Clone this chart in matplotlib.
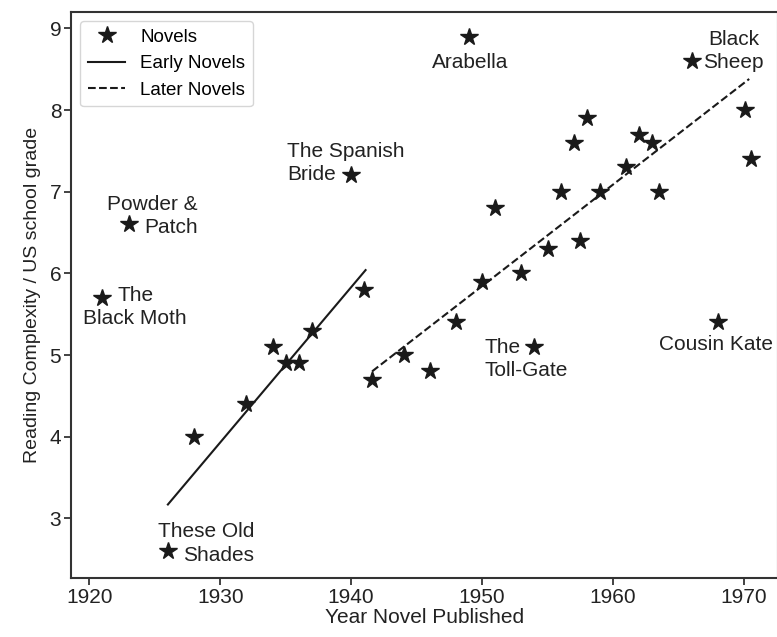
import matplotlib.pyplot as plt

plt.rcParams['font.family'] = ['Liberation Sans', 'DejaVu Sans']

# publication year and reading grade of each novel
years = [1921, 1923, 1926, 1928, 1932, 1934, 1935, 1936, 1937, 1940, 1941, 1941.6,
         1944, 1946, 1948, 1949, 1950, 1951, 1953, 1954, 1955, 1956, 1957, 1957.5,
         1958, 1959, 1961, 1962, 1963, 1963.5, 1966, 1968, 1970.1, 1970.5]
grades = [5.7, 6.6, 2.6, 4.0, 4.4, 5.1, 4.9, 4.9, 5.3, 7.2, 5.8, 4.7,
          5.0, 4.8, 5.4, 8.9, 5.9, 6.8, 6.0, 5.1, 6.3, 7.0, 7.6, 6.4,
          7.9, 7.0, 7.3, 7.7, 7.6, 7.0, 8.6, 5.4, 8.0, 7.4]

# trend lines (end points)
early_x = [1926, 1941.1]
early_y = [3.17, 6.04]
later_x = [1941.6, 1970.4]
later_y = [4.8, 8.38]

# labelled novels: text, x, y, horizontal alignment
labels = [
    ("The\nBlack Moth", 1923.5, 5.59, 'center'),
    ("Powder &\nPatch", 1928.3, 6.70, 'right'),
    ("These Old\nShades", 1932.6, 2.69, 'right'),
    ("The Spanish\nBride", 1935.1, 7.35, 'left'),
    ("Arabella", 1949.1, 8.58, 'center'),
    ("The\nToll-Gate", 1950.2, 4.95, 'left'),
    ("Black\nSheep", 1969.2, 8.72, 'center'),
    ("Cousin Kate", 1967.9, 5.13, 'center'),
]

fig = plt.figure(figsize=(7.77, 6.37), dpi=100)
ax = fig.add_axes([71 / 777, 59 / 637, 707 / 777, 566 / 637])

ax.plot(years, grades, ls='none', marker='*', ms=13, color='#1a1a1a', label='Novels')
ax.plot(early_x, early_y, color='#1a1a1a', lw=1.5, label='Early Novels')
ax.plot(later_x, later_y, color='#1a1a1a', lw=1.5, ls='--', label='Later Novels')

for txt, x, y, ha in labels:
    ax.text(x, y, txt, ha=ha, va='center', multialignment=ha,
            fontsize=15, color='#222222', linespacing=1.3)

ax.set_xlim(1918.6, 1972.6)
ax.set_ylim(2.27, 9.2)
ax.set_xticks([1920, 1930, 1940, 1950, 1960, 1970])
ax.set_yticks([3, 4, 5, 6, 7, 8, 9])

ax.set_xlabel('Year Novel Published', fontsize=15, color='#222222', labelpad=1)
ax.set_ylabel('Reading Complexity / US school grade', fontsize=14, color='#222222', labelpad=6)
ax.tick_params(labelsize=15, colors='#222222', length=5, width=1.2, pad=2)
for s in ax.spines.values():
    s.set_color('#333333')
    s.set_linewidth(1.5)

ax.legend(loc='upper left', fontsize=13.5, handlelength=2.0, borderpad=0.4,
          labelspacing=0.5, handletextpad=0.8, frameon=True)

fig.savefig('out.png', dpi=100)
